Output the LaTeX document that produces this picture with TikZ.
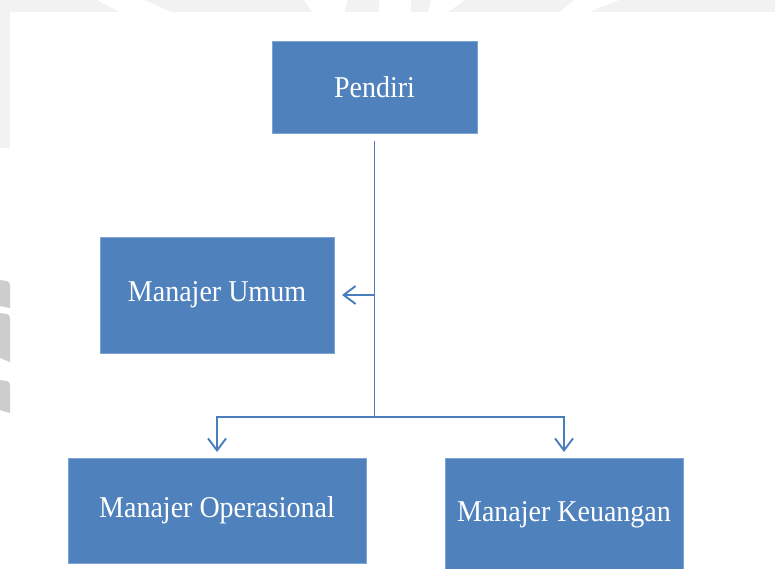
\documentclass[tikz,border=0pt]{standalone}
\usepackage{fontspec}
\setmainfont{Liberation Serif}
\usetikzlibrary{arrows.meta}
\definecolor{boxblue}{HTML}{4F81BD}
\definecolor{boxedge}{HTML}{7EA3D6}
\definecolor{linkblue}{HTML}{4A7EBB}
\definecolor{stripgrey}{HTML}{F2F2F2}
\definecolor{markgrey}{HTML}{CDCDCD}
\tikzset{
  orgbox/.style={draw=boxedge, line width=0.8pt, fill=boxblue, text=white,
    inner sep=0pt, outer sep=0pt, align=center,
    font=\fontsize{28}{32}\selectfont},
  link/.style={draw=linkblue, line width=1.9pt},
  tip/.style={-{Straight Barb[length=12pt,width=18pt]}}
}
% slightly tall lettering for the box labels
\newcommand{\orglabel}[1]{\scalebox{1}[1.08]{#1}}
\begin{document}
\begin{tikzpicture}[x=1pt,y=-1pt]
\useasboundingbox (0,0) rectangle (775,569);
\fill[white] (0,0) rectangle (775,569);

% faint page frame with watermark fragments
\fill[stripgrey] (0,0) rectangle (775,12);
\fill[stripgrey] (0,0) rectangle (10,148);
\fill[white] (97,0) -- (144,0) -- (171,12) -- (119,12) -- cycle;
\fill[white] (304,0) -- (347,0) -- (345,12) -- (312,12) -- cycle;
\fill[white] (379,0) rectangle (411,12);
\fill[white] (431,0) -- (465,0) -- (448,12) -- (428,12) -- cycle;
\fill[white] (574,0) -- (619,0) -- (589,12) -- (560,12) -- cycle;
\fill[markgrey] (0,280) -- (7,281) to[out=0,in=90] (10,286) -- (10,308) -- (0,306) -- cycle;
\fill[markgrey] (0,313) -- (7,314) to[out=0,in=90] (10,319) -- (10,362) -- (0,358) -- cycle;
\fill[markgrey] (0,380) -- (7,381) to[out=0,in=90] (10,386) -- (10,413) -- (0,410) -- cycle;

% organisation boxes
\node[orgbox, minimum width=205pt, minimum height=92pt]  (pendiri) at (374.5,87)  {\orglabel{Pendiri}};
\node[orgbox, minimum width=234pt, minimum height=116pt] (umum)    at (217,295)   {\orglabel{Manajer Umum}};
\node[orgbox, minimum width=298pt, minimum height=105pt] (ops)     at (217,510.5) {\orglabel{Manajer Operasional}};
\node[orgbox, minimum width=238pt, minimum height=114pt] (keu)     at (564,515)   {\orglabel{Manajer Keuangan}};

% branch points on the trunk line
\coordinate (ub) at (374.5,295);
\coordinate (jn) at (374.5,417);

% connectors
\draw[link, shorten <=8pt] (pendiri.south) -- (jn);
\draw[link, tip, shorten >=8pt] (ub) -- (umum.east);
\draw[link, tip, shorten >=6pt] (jn) -| (ops.north);
\draw[link, tip, shorten >=6pt] (jn) -| (keu.north);
\end{tikzpicture}
\end{document}
